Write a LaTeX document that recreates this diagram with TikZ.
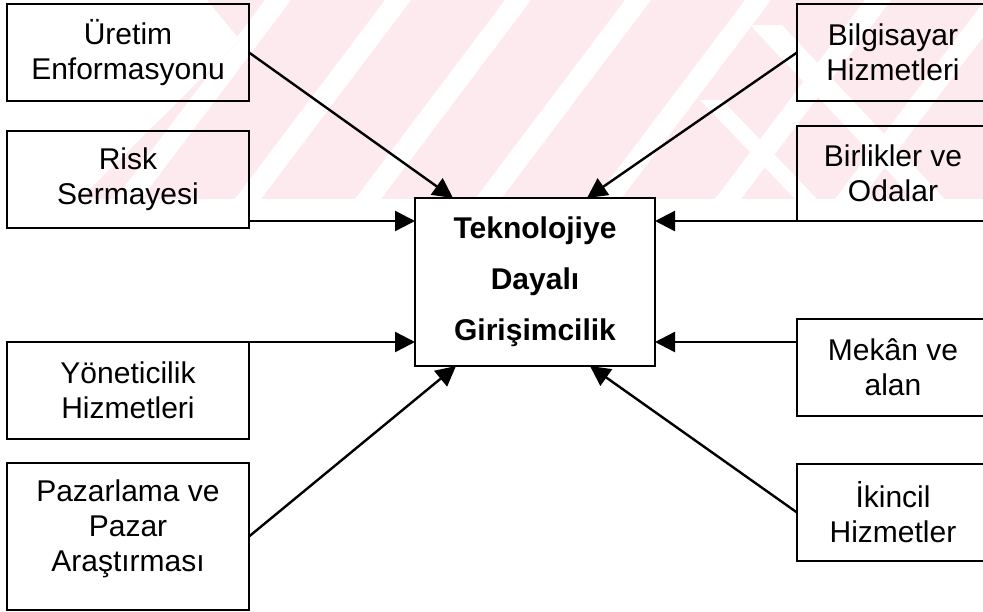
\documentclass[tikz,border=0pt]{standalone}
\usepackage{fontspec}
\setmainfont{Liberation Sans}
\usepackage{xcolor}
\usetikzlibrary{arrows.meta, positioning}
\definecolor{wmpink}{RGB}{253,234,238}

\begin{document}
\begin{tikzpicture}[x=1pt, y=-1pt, line width=2.4pt]
\tikzstyle{factor} = [rectangle, draw, align=center, minimum width=242pt, minimum height=97pt, inner sep=0pt, outer sep=0pt, font=\fontsize{30}{35}\selectfont]
\tikzstyle{side} = [factor, minimum width=192pt]
\tikzstyle{core} = [rectangle, draw, align=center, minimum width=240pt, minimum height=168pt, inner sep=0pt, outer sep=0pt, font=\fontsize{30}{51}\selectfont\bfseries]
\tikzstyle{feed} = [-{Triangle[length=20pt, width=20pt]}]

\clip (0,0) rectangle (983,611);

% faint watermark behind the boxes
\begin{scope}
\clip (207,0) -- (983,0) -- (983,199) -- (80,199) -- (240,40) -- cycle;
\fill[wmpink] (0,0) rectangle (983,199);
\foreach \s in {265,385,...,985}
  \fill[white] (\s,0) -- (\s+26,0) -- (\s-124,199) -- (\s-150,199) -- cycle;
\fill[white] (750,25) -- (782,25) -- (983,240) -- (983,272) -- cycle;
\fill[white] (700,100) -- (722,100) -- (817,199) -- (795,199) -- cycle;
\end{scope}

\node (center) [core] at (535,282) {Teknolojiye\\Dayalı\\Girişimcilik};

\node (uretim) [factor] at (128,52.5) {Üretim\\Enformasyonu};
\node (risk) [factor, below=30pt of uretim] {Risk\\Sermayesi};
\node (yonetici) [factor] at (128,390.5) {Yöneticilik\\Hizmetleri};
\node (pazar) [factor, minimum height=147pt, text depth=22pt, below=24pt of yonetici] {Pazarlama ve\\Pazar\\Araştırması};

\node (bilgi) [side] at (893,52.5) {Bilgisayar\\Hizmetleri};
\node (birlik) [side, minimum height=95pt, below=25pt of bilgi] {Birlikler ve\\Odalar};
\node (mekan) [side] at (893,367.5) {Mekân ve\\alan};
\node (ikincil) [side, below=48pt of mekan] {İkincil\\Hizmetler};

\draw[feed] (uretim.east) -- ([xshift=-82pt]center.north);
\draw[feed] (risk.east |- birlik.south) -- (center.west |- birlik.south);
\draw[feed] (yonetici.north east) -- (center.west |- yonetici.north);
\draw[feed] (pazar.east) -- ([xshift=-79pt]center.south);
\draw[feed] (bilgi.west) -- ([xshift=52pt]center.north);
\draw[feed] (birlik.south west) -- (center.east |- birlik.south);
\draw[feed] (mekan.west |- yonetici.north) -- (center.east |- yonetici.north);
\draw[feed] (ikincil.west) -- ([xshift=55pt]center.south);

\end{tikzpicture}
\end{document}
